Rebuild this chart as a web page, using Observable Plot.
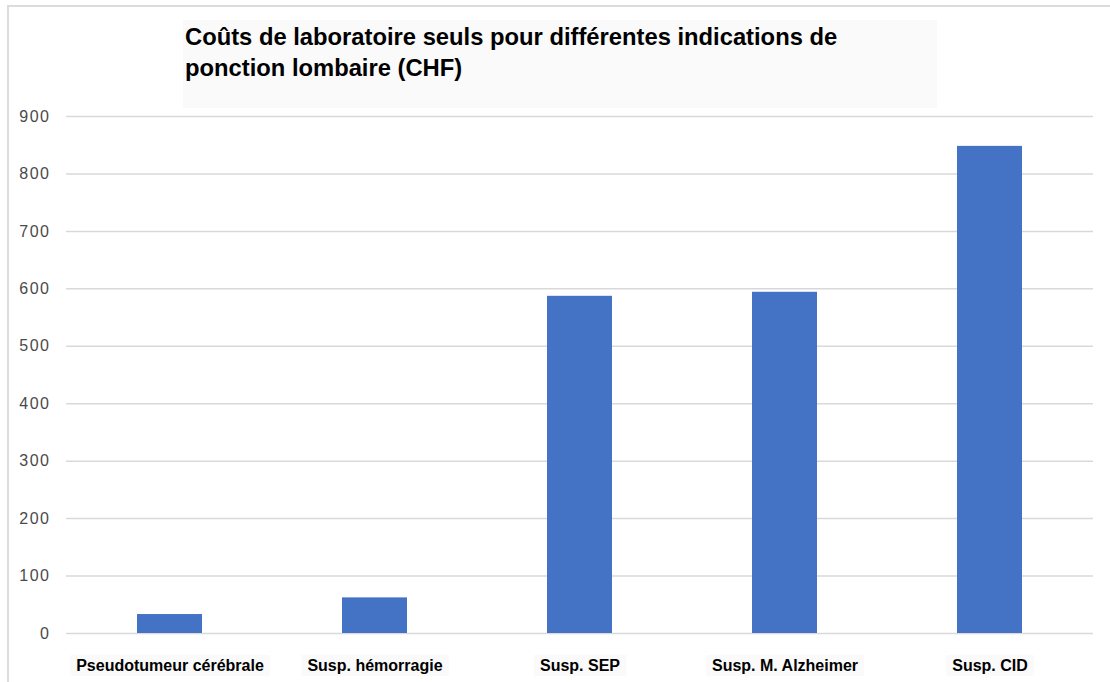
<!DOCTYPE html>
<html>
<head>
<meta charset="utf-8">
<script src="https://cdn.jsdelivr.net/npm/d3@7"></script>
<script src="https://cdn.jsdelivr.net/npm/@observablehq/plot@0.6"></script>
<style>
  html, body { margin: 0; padding: 0; background: #fff; }
  #wrap { position: relative; width: 1110px; height: 682px; overflow: hidden; font-family: "Liberation Sans", Arial, sans-serif; }
  #frame { position: absolute; left: 7px; top: 5px; width: 1200px; height: 800px; border-left: 2px solid #dcdcdc; border-top: 2px solid #dcdcdc; }
  #titlebox { position: absolute; left: 183px; top: 20px; width: 754px; height: 88px; background: #fafafa; }
  #title { position: absolute; left: 185px; top: 21px; font-weight: bold; font-size: 24px; line-height: 31px; color: #000; transform: scaleX(0.99); transform-origin: left top; white-space: nowrap; }
  #chart { position: absolute; left: 0; top: 0; }
</style>
</head>
<body>
<div id="wrap">
  <div id="frame"></div>
  <div id="titlebox"></div>
  <div id="title">Coûts de laboratoire seuls pour différentes indications de<br>ponction lombaire (CHF)</div>
  <div id="chart"></div>
</div>
<script>
const categories = ["Pseudotumeur cérébrale", "Susp. hémorragie", "Susp. SEP", "Susp. M. Alzheimer", "Susp. CID"];
const costs = [33, 62, 587, 594, 848];
const yTicks = [0, 100, 200, 300, 400, 500, 600, 700, 800, 900];

const data = categories.map((c, i) => ({category: c, cost: costs[i]}));

const chart = Plot.plot({
  width: 1110,
  height: 682,
  marginLeft: 66,
  marginRight: 17,
  marginTop: 116,
  marginBottom: 49,
  style: {background: "transparent", fontFamily: "Liberation Sans, Arial, sans-serif"},
  x: {domain: categories, paddingInner: 0.684, paddingOuter: 0.342, label: null},
  y: {domain: [0, 900], ticks: yTicks, label: null},
  marks: [
    Plot.gridY(yTicks, {stroke: "#d9d9d9", strokeOpacity: 1, strokeWidth: 1.5}),
    Plot.barY(data, {x: "category", y: "cost", fill: "#4472c4"}),
    Plot.axisY(yTicks, {tickSize: 0, tickPadding: 16, fontSize: 16, fill: "#4a4a4a", label: null}),
    Plot.axisX({tickSize: 0, tickPadding: 26, fontSize: 16, fontWeight: "bold", fill: "#000", label: null})
  ]
});
document.getElementById("chart").appendChild(chart);

// slight letter spacing for y tick labels
d3.select(chart).selectAll("g[aria-label='y-axis tick label'] text").style("letter-spacing", "1.5px");

// light boxes behind the x labels
const xAxisG = d3.select(chart).selectAll("g[aria-label='x-axis tick label']");
xAxisG.each(function() {
  const g = this;
  d3.select(g).selectAll("text").each(function() {
    const b = this.getBBox();
    const t = this.getAttribute("transform");
    const r = document.createElementNS("http://www.w3.org/2000/svg", "rect");
    r.setAttribute("x", b.x - 6);
    r.setAttribute("y", b.y - 2);
    r.setAttribute("width", b.width + 12);
    r.setAttribute("height", b.height + 4);
    r.setAttribute("fill", "#fafafa");
    if (t) r.setAttribute("transform", t);
    g.insertBefore(r, g.firstChild);
  });
});
</script>
</body>
</html>
